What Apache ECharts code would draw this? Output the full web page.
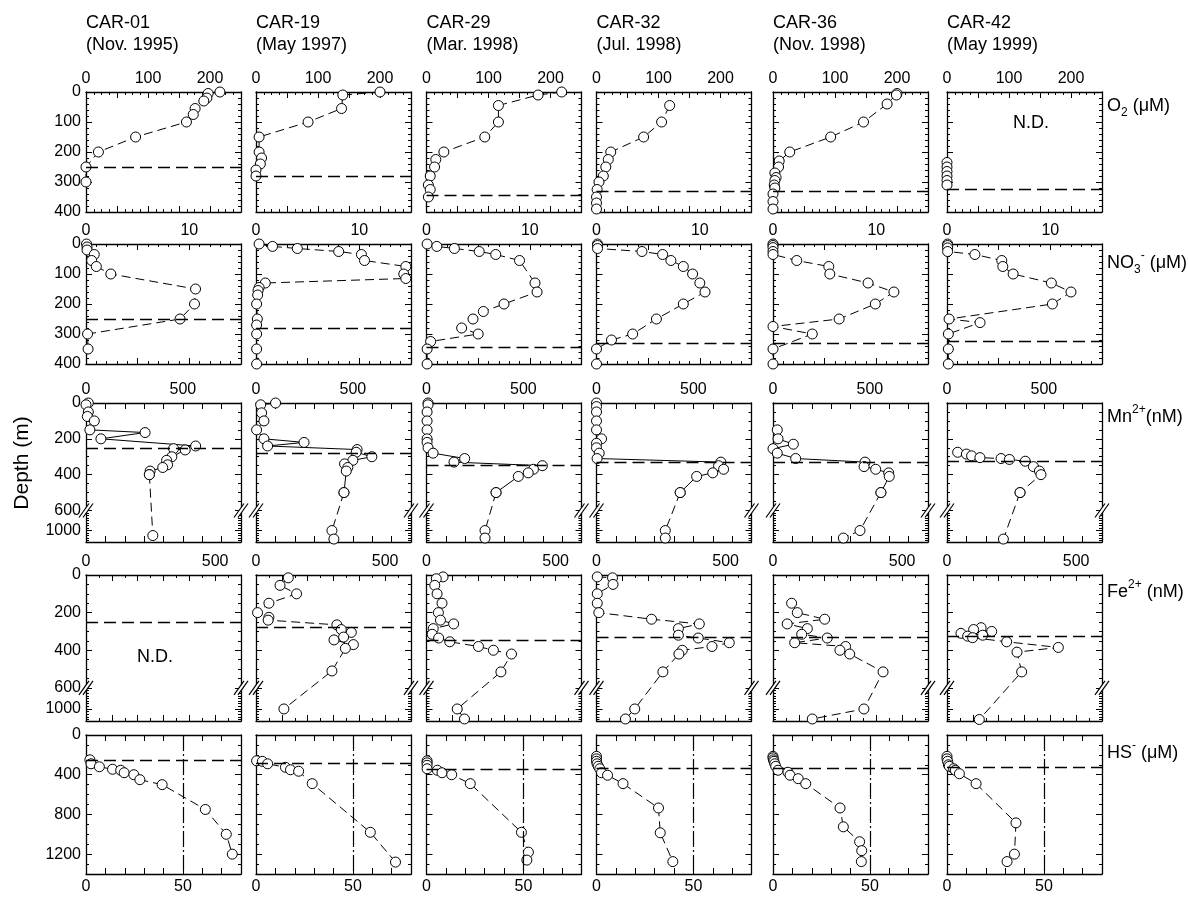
<!DOCTYPE html>
<html>
<head>
<meta charset="utf-8">
<title>Cariaco profiles</title>
<script src="https://cdn.jsdelivr.net/npm/echarts@6/dist/echarts.min.js"></script>
<style>
html,body{margin:0;padding:0;background:#fff;}
#chart{width:1188px;height:898px;}
</style>
</head>
<body>
<div id="chart"></div>
<script>
// ================= DATA =================
const stations = ['CAR-01', 'CAR-19', 'CAR-29', 'CAR-32', 'CAR-36', 'CAR-42'];
const cruiseDates = ['(Nov. 1995)', '(May 1997)', '(Mar. 1998)', '(Jul. 1998)', '(Nov. 1998)', '(May 1999)'];
const interfaceDepth = [250, 280, 345, 330, 330, 325];   // m, dashed line
const hsRefValue = 50;                                    // µM, dash-dot line in HS- row

// O2 (µM)
const o2Depth = [
  [0, 5, 20, 30, 55, 75, 100, 150, 200, 250, 300],
  [0, 10, 55, 100, 150, 200, 220, 240, 260, 280],
  [0, 10, 45, 100, 150, 200, 225, 250, 280, 310, 325, 350],
  [45, 100, 150, 200, 225, 250, 280, 300, 325, 350, 370, 390],
  [5, 10, 40, 100, 150, 200, 230, 250, 270, 285, 295, 310, 320, 340, 365, 390],
  [235, 250, 265, 280, 295, 310]
];
const o2Value = [
  [216, 197, 195, 190, 176, 173, 162, 80, 20, 0, 0],
  [200, 140, 138, 84, 5, 5, 9, 7, 0, 0],
  [218, 180, 116, 116, 94, 28, 15, 13, 6, 3, 6, 3],
  [118, 105, 76, 23, 19, 15, 11, 4, 1, 0, 0, 0],
  [200, 199, 184, 146, 93, 27, 10, 9, 3, 5, 3, 2, 3, 0, 0, 0],
  [0, 0, 0, 0, 0, 0]
];

// NO3- (µM)
const no3Depth = [
  [0, 10, 20, 35, 55, 75, 100, 150, 200, 250, 300, 350],
  [0, 8, 15, 25, 35, 55, 75, 100, 115, 130, 145, 155, 170, 200, 250, 270, 300, 350, 400],
  [0, 8, 15, 25, 35, 55, 130, 160, 200, 225, 250, 280, 300, 325, 350, 400],
  [0, 5, 15, 25, 35, 55, 75, 100, 130, 160, 200, 250, 300, 320, 350, 400],
  [0, 5, 12, 25, 35, 55, 75, 100, 130, 160, 200, 250, 275, 300, 350, 400],
  [0, 5, 13, 25, 35, 55, 75, 100, 130, 160, 200, 250, 262, 300, 350, 400]
];
const no3Value = [
  [0.05, 0.1, 0.1, 0.8, 0.55, 1.0, 2.4, 10.6, 10.5, 9.1, 0.15, 0.2],
  [0.3, 1.6, 4.0, 8.0, 10.2, 10.5, 14.5, 14.3, 14.5, 0.9, 0.3, 0.2, 0.16, 0.06, 0.13, 0.06, 0.06, 0.06, 0.06],
  [0.06, 1.0, 2.7, 5.1, 6.7, 9.0, 10.5, 10.7, 7.5, 5.5, 4.5, 3.4, 5.0, 0.4, 0.06, 0.06],
  [0.1, 0.1, 0.1, 4.4, 6.4, 7.2, 8.4, 9.3, 10.0, 10.5, 8.4, 5.8, 3.5, 1.45, 0, 0],
  [0, 0, 0, 0, 0, 2.3, 5.4, 5.5, 9.2, 11.7, 9.9, 6.4, 0, 3.8, 0, 0],
  [0.06, 0.06, 0.06, 0.06, 2.7, 5.3, 5.4, 6.4, 10.1, 12.0, 10.2, 0.2, 3.2, 0.13, 0.13, 0.13]
];

// Mn2+ (nM)
const mnDepth = [
  [0, 10, 50, 75, 100, 150, 165, 200, 240, 255, 262, 300, 320, 345, 360, 380, 400, 1100],
  [0, 10, 55, 100, 150, 200, 220, 240, 260, 275, 300, 320, 340, 360, 380, 500, 1000, 1170],
  [0, 10, 50, 100, 150, 200, 220, 250, 280, 310, 330, 350, 370, 390, 410, 500, 1000, 1150],
  [0, 20, 50, 100, 150, 200, 225, 250, 280, 310, 330, 350, 370, 390, 410, 500, 1000, 1150],
  [150, 200, 230, 255, 280, 310, 330, 355, 370, 390, 410, 500, 1000, 1150],
  [275, 285, 295, 305, 310, 315, 325, 355, 380, 400, 500, 1170]
];
const mnValue = [
  [12, 0, 12, 7, 43, 20, 305, 77, 566, 452, 512, 443, 416, 421, 396, 331, 327, 345],
  [101, 24, 29, 41, 3, 41, 248, 60, 522, 517, 598, 500, 457, 474, 466, 454, 392, 402],
  [8, 8, 3, 3, 3, 3, 3, 8, 34, 197, 142, 598, 552, 525, 474, 359, 302, 302],
  [0, 0, 0, 0, 0, 26, 0, 0, 14, 3, 642, 630, 656, 600, 517, 432, 355, 355],
  [22, 26, 105, 0, 22, 117, 475, 470, 530, 597, 600, 557, 449, 363],
  [55, 100, 127, 170, 279, 322, 404, 446, 477, 485, 377, 291]
];

// Fe2+ (nM)  (CAR-01 not determined)
const feDepth = [
  null,
  [15, 55, 100, 150, 200, 225, 240, 265, 290, 305, 330, 345, 370, 390, 510, 1000],
  [10, 20, 55, 100, 150, 200, 240, 260, 285, 315, 335, 355, 380, 400, 420, 515, 1000, 1190],
  [10, 15, 50, 100, 150, 200, 235, 260, 285, 320, 335, 360, 380, 400, 420, 515, 1000, 1190],
  [150, 200, 235, 260, 285, 315, 335, 360, 380, 400, 420, 515, 1000, 1190],
  [280, 290, 300, 310, 320, 325, 333, 355, 385, 410, 515, 1200]
];
const feValue = [
  null,
  [125, 93, 157, 50, 6, 50, 47, 313, 330, 369, 339, 302, 377, 346, 294, 108],
  [64, 38, 32, 41, 60, 46, 54, 105, 26, 22, 47, 90, 201, 259, 329, 288, 119, 147],
  [3, 62, 64, 3, 3, 9, 213, 398, 317, 317, 394, 514, 447, 332, 319, 257, 148, 112],
  [72, 94, 200, 55, 133, 111, 210, 84, 281, 259, 297, 426, 352, 152],
  [132, 103, 173, 54, 138, 80, 99, 231, 431, 271, 289, 125]
];

// HS- (µM)
const hsDepth = [
  [250, 290, 320, 345, 355, 380, 400, 450, 500, 750, 1000, 1200],
  [260, 265, 290, 325, 350, 365, 490, 980, 1280],
  [260, 280, 305, 340, 355, 380, 400, 490, 980, 1180, 1260],
  [215, 240, 265, 290, 315, 340, 380, 405, 490, 735, 985, 1275],
  [215, 230, 250, 265, 290, 315, 355, 375, 405, 440, 490, 735, 925, 1075, 1165, 1275],
  [215, 240, 265, 300, 315, 340, 355, 390, 490, 885, 1200, 1275]
];
const hsValue = [
  [2, 2.6, 6.9, 13.7, 17.9, 19.7, 24.7, 27.8, 39.3, 61.6, 72.4, 75.5],
  [0.3, 3.3, 6, 15.2, 17.8, 22, 29, 59, 72],
  [0.3, 0.3, 0.3, 0.3, 5.6, 8, 13, 22.6, 49, 52.6, 51.8],
  [0, 0, 0, 0.3, 0.9, 1.7, 2.6, 5.7, 13.7, 32, 32.9, 39.4],
  [0, 0, 0.2, 0.5, 0.9, 1.4, 2.6, 7.7, 8.8, 13, 16.9, 34.6, 36.3, 44.7, 45.8, 45.6],
  [0, 0, 0.3, 0.7, 1.2, 3.4, 4.3, 6.4, 15, 35.6, 34.8, 31]
];

// Tick labels
const o2TickLabels = [0, 100, 200];
const no3TickLabels = [0, 10];
const mnTickLabels = [0, 500];
const feTickLabels = [0, 500];
const hsTickLabels = [0, 50];
const shallowDepthLabels = [0, 100, 200, 300, 400];
const brokenDepthLabels = [0, 200, 400, 600, 1000];
const deepDepthLabels = [0, 400, 800, 1200];
const noDataPanels = [[0, 5], [3, 0]];  // [row, col]

// ================= LAYOUT / STYLE =================
const FONT = '"Liberation Sans", Arial, Helvetica, sans-serif';
const colLeft = [86, 256, 426.5, 596.5, 773, 947];
const panelW = 155;
const rowTop = [92, 244, 403, 575, 735];
const rowH = [120, 120, 139, 146, 139];
const BREAK_D = 600, BREAK_S = 0.28, BROKEN_TMAX = 776;
const brk = d => d <= BREAK_D ? d : BREAK_D + (d - BREAK_D) * BREAK_S;
const DASH = [9, 5];
// Mn profiles: upper part solid (dashed for CAR-42), deep part dashed
const mnUpperStyle = ['solid', 'solid', 'solid', 'solid', 'solid', DASH];

const seq = (a, b, s) => { const o = []; for (let i = 0; a + i * s <= b + 1e-9; i++) o.push(+(a + i * s).toFixed(6)); return o; };
const notIn = (arr, ex) => arr.filter(v => !ex.some(m => Math.abs(m - v) < 1e-6));

const rowsSpec = [
  { depth: o2Depth, value: o2Value, xMax: 250, xMajor: 50, xMinor: 12.5, xLabels: o2TickLabels, y: 'shallow' },
  { depth: no3Depth, value: no3Value, xMax: 15, xMajor: 5, xMinor: 1, xLabels: no3TickLabels, y: 'shallow' },
  { depth: mnDepth, value: mnValue, xMax: 800, xMajor: 100, xMinor: 0, xLabels: mnTickLabels, y: 'broken', split: true },
  { depth: feDepth, value: feValue, xMax: 600, xMajor: 100, xMinor: 50, xLabels: feTickLabels, y: 'broken' },
  { depth: hsDepth, value: hsValue, xMax: 80, xMajor: 10, xMinor: 0, xLabels: hsTickLabels, y: 'deep' }
];

function yScale(kind) {
  if (kind === 'shallow') {
    const maj = seq(0, 400, 100);
    return { max: 400, major: maj, minor: notIn(seq(0, 400, 20), maj), labels: shallowDepthLabels, map: d => d, fmt: v => String(v) };
  }
  if (kind === 'deep') {
    const maj = deepDepthLabels.slice();
    return { max: 1400, major: maj, minor: notIn(seq(0, 1400, 100), maj), labels: deepDepthLabels, map: d => d, fmt: v => String(v) };
  }
  const maj = brokenDepthLabels.map(brk);
  const minD = notIn(seq(0, 600, 50), [0, 200, 400, 600]).concat(notIn(seq(650, 1200, 50), [1000]));
  return {
    max: BROKEN_TMAX, major: maj, minor: minD.map(brk), labels: maj, map: brk,
    fmt: v => (v > BREAK_D ? String(Math.round(BREAK_D + (v - BREAK_D) / BREAK_S)) : String(Math.round(v)))
  };
}

function mkAxis(gi, pos, max, showLine, ticks, tickLen, labels, inverse, fmt) {
  return {
    gridIndex: gi, type: 'value', position: pos, min: 0, max: max, inverse: !!inverse,
    axisLine: { show: showLine, onZero: false, lineStyle: { color: '#000', width: 1.3 } },
    axisTick: { show: ticks.length > 0, inside: true, length: tickLen, customValues: ticks.length ? ticks : undefined, lineStyle: { color: '#000', width: 1 } },
    axisLabel: labels ? { show: true, customValues: labels, formatter: fmt, fontSize: 16, fontFamily: FONT, color: '#000', margin: 5 } : { show: false },
    splitLine: { show: false }, minorTick: { show: false }, minorSplitLine: { show: false },
    axisPointer: { show: false }
  };
}

function profileSeries(xi, yi, pts, lineType) {
  return {
    type: 'line', xAxisIndex: xi, yAxisIndex: yi, z: 3, animation: false, silent: true,
    data: pts, symbol: 'circle', symbolSize: 10, showSymbol: true, showAllSymbol: true, clip: false,
    itemStyle: { color: '#fff', borderColor: '#000', borderWidth: 1 },
    lineStyle: { color: '#000', width: 1, type: lineType }
  };
}

const grids = [], xAxes = [], yAxes = [], series = [], breakAxes = [];
for (let r = 0; r < 5; r++) {
  const p = rowsSpec[r];
  const ys = yScale(p.y);
  for (let c = 0; c < 6; c++) {
    const gi = grids.length;
    grids.push({ left: colLeft[c], top: rowTop[r], width: panelW, height: rowH[r], containLabel: false });
    const xm = r === 4 ? 'bottom' : 'top', xo = r === 4 ? 'top' : 'bottom';
    const xMaj = seq(0, p.xMax, p.xMajor);
    const xMin = p.xMinor ? notIn(seq(0, p.xMax, p.xMinor), xMaj) : [];
    const xi = xAxes.length;
    xAxes.push(mkAxis(gi, xm, p.xMax, true, xMaj, 6, p.xLabels, false, v => String(v)));
    xAxes.push(mkAxis(gi, xm, p.xMax, false, xMin, 3, null));
    xAxes.push(mkAxis(gi, xo, p.xMax, true, xMaj, 6, null));
    xAxes.push(mkAxis(gi, xo, p.xMax, false, xMin, 3, null));
    const yi = yAxes.length;
    yAxes.push(mkAxis(gi, 'left', ys.max, true, ys.major, 6, c === 0 ? ys.labels : null, true, ys.fmt));
    yAxes.push(mkAxis(gi, 'left', ys.max, false, ys.minor, 3, null, true));
    yAxes.push(mkAxis(gi, 'right', ys.max, true, ys.major, 6, null, true));
    yAxes.push(mkAxis(gi, 'right', ys.max, false, ys.minor, 3, null, true));
    if (p.y === 'broken') breakAxes.push({ xi, yi, xMax: p.xMax });

    // reference lines
    const ml = [{ yAxis: ys.map(interfaceDepth[c]) }];
    if (r === 4) ml.push({ xAxis: hsRefValue, lineStyle: { type: [16, 3, 2, 3], width: 1.2, color: '#000' } });
    series.push({
      type: 'line', xAxisIndex: xi, yAxisIndex: yi, data: [], silent: true, z: 2, animation: false,
      markLine: { silent: true, animation: false, symbol: ['none', 'none'], label: { show: false },
        lineStyle: { color: '#000', width: 1.3, type: [12, 6] }, data: ml }
    });

    const dep = p.depth[c], val = p.value[c];
    if (!dep) continue;
    const pts = dep.map((d, i) => [val[i], ys.map(d)]);
    if (p.split) {
      let k = 0;
      dep.forEach((d, i) => { if (d <= BREAK_D) k = i; });
      series.push(profileSeries(xi, yi, pts.slice(0, k + 1), mnUpperStyle[c]));
      if (k < pts.length - 1) series.push(profileSeries(xi, yi, pts.slice(k), DASH));
    } else {
      series.push(profileSeries(xi, yi, pts, DASH));
    }
  }
}

const chart = echarts.init(document.getElementById('chart'), null, { renderer: 'canvas' });
chart.setOption({ animation: false, backgroundColor: '#fff', grid: grids, xAxis: xAxes, yAxis: yAxes, series: series });

// ================= TEXT & DECORATIONS =================
const graphics = [];
const txt = (x, y, text, size, align, extra) => Object.assign({
  type: 'text', x, y, z: 100, silent: true,
  style: { text, fontSize: size, fontFamily: FONT, fill: '#000', align: align || 'left', verticalAlign: 'middle' }
}, extra || {});

for (let c = 0; c < 6; c++) {
  graphics.push(txt(colLeft[c], 23, stations[c], 18));
  graphics.push(txt(colLeft[c], 45, cruiseDates[c], 18));
}
graphics.push(txt(22, 463, 'Depth (m)', 21, 'center', { rotation: Math.PI / 2 }));

const rich = {
  a: { fontSize: 18, fontFamily: FONT, fill: '#000', lineHeight: 26, verticalAlign: 'middle' },
  sub: { fontSize: 12, fontFamily: FONT, fill: '#000', lineHeight: 12, verticalAlign: 'bottom' },
  sup: { fontSize: 12, fontFamily: FONT, fill: '#000', lineHeight: 12, verticalAlign: 'top' }
};
const rightLabels = [
  '{a|O}{sub|2}{a| (μM)}',
  '{a|NO}{sub|3}{sup|-}{a| (μM)}',
  '{a|Mn}{sup|2+}{a|(nM)}',
  '{a|Fe}{sup|2+}{a| (nM)}',
  '{a|HS}{sup|-}{a| (μM)}'
];
const rightLabelY = [106, 263, 417, 592, 753];
rightLabels.forEach((t, r) => {
  graphics.push({ type: 'text', x: 1107, y: rightLabelY[r], z: 100, silent: true,
    style: { text: t, rich, fontFamily: FONT, fontSize: 18, fill: '#000', align: 'left', verticalAlign: 'middle' } });
});

// N.D. labels
const ndPos = { '0,5': [1031, 123], '3,0': [155, 657] };
noDataPanels.forEach(([r, c]) => {
  const pos = ndPos[r + ',' + c];
  graphics.push(txt(pos[0], pos[1], 'N.D.', 18, 'center'));
});

// axis break marks at 600 m
breakAxes.forEach(b => {
  const Y = chart.convertToPixel({ yAxisIndex: b.yi }, BREAK_D);
  const xs = [chart.convertToPixel({ xAxisIndex: b.xi }, 0), chart.convertToPixel({ xAxisIndex: b.xi }, b.xMax)];
  xs.forEach(X => {
    const a0 = [X - 7, Y + 7], a1 = [X + 3, Y - 7];
    const b0 = [X - 3, Y + 7], b1 = [X + 7, Y - 7];
    graphics.push({ type: 'polygon', z: 101, silent: true, shape: { points: [a0, a1, b1, b0] }, style: { fill: '#fff', stroke: null } });
    graphics.push({ type: 'line', z: 102, silent: true, shape: { x1: a0[0], y1: a0[1], x2: a1[0], y2: a1[1] }, style: { stroke: '#000', lineWidth: 1.2 } });
    graphics.push({ type: 'line', z: 102, silent: true, shape: { x1: b0[0], y1: b0[1], x2: b1[0], y2: b1[1] }, style: { stroke: '#000', lineWidth: 1.2 } });
  });
});

chart.setOption({ graphic: graphics });
</script>
</body>
</html>
